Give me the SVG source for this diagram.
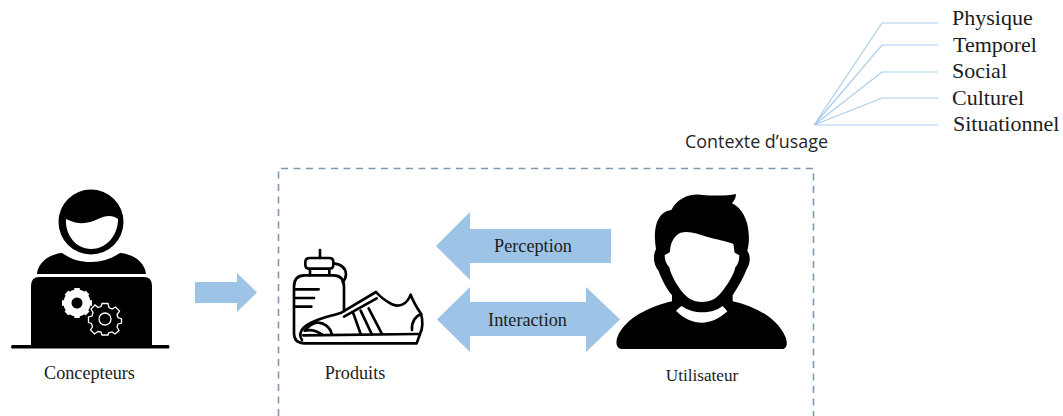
<svg xmlns="http://www.w3.org/2000/svg" width="1063" height="416" viewBox="0 0 1063 416">
<style>
.t{font-family:"Liberation Serif","Times New Roman",serif;fill:#1c1c1c}
.s{font-size:18.200px}
.m{font-size:22px}
.ar{fill:#9dc3e6}
.ln{fill:none;stroke:#a9cdec;stroke-width:1.200}
.ic{fill:#000}
.wh{fill:#fff}
.sh{fill:none;stroke:#000;stroke-width:8;stroke-linecap:round;stroke-linejoin:round}
</style>
<rect width="1063" height="416" fill="#fff"/>
<g id="connectors">
<path d="M278.500 416V168.500H813.500V416" fill="none" stroke="#7f98b0" stroke-width="1.600" stroke-dasharray="7 5.500"/>
<path class="ar" d="M195 282H237V273L257 292.500L237 312V303H195Z"/>
<path class="ar" d="M436 246L470 212V229H611V263H470V280Z"/>
<path class="ar" d="M437 319.500L470 287V302H586V287L620 319.500L586 352V336H470V352Z"/>
<path class="ln" d="M814 125L882 23H938M814 125L882 45H938M814 125L882 72H938M814 125L882 98H938M814 125H938"/>
</g>
<g id="concepteurs">
<circle class="ic" cx="91" cy="222" r="32.500"/>
<path class="wh" d="M66 219C78 225 88 224 98 219C106 215 113 215 118 219C118 236 106 249 91 249C76 249 65 235 66 219Z"/>
<path class="ic" d="M37 274C38 262 50 254 62 253C72 260 80 262 91 262C102 262 111 259 120 253C133 254 145 262 146 274Z"/>
<path class="ic" d="M31 286Q31 277 39 277H144Q152 277 152 286V345H169Q170 347 169 348.500H12Q10 347 12 345H31Z"/>
<g transform="translate(77 303)">
<circle r="10" fill="none" stroke="#fff" stroke-width="7"/>
<path d="M0-15V15M-15 0H15M-10.500-10.500L10.500 10.500M-10.500 10.500L10.500-10.500" stroke="#fff" stroke-width="5.500"/>
<circle r="5.500" fill="#000"/>
</g>
<g transform="translate(105 319)" fill="none" stroke="#fff" stroke-width="1.300">
<circle r="6"/>
<path d="M-3-15.500H3L4-11.500L7-10L10.500-12L14.500-8L12-4.500L13-1.500L16.500 0V4L13 5L12 8L14 11.500L10 15L7 13L3.500 14L3 16H-3L-4 13L-7 12.500L-10.500 15L-14.500 11L-12.500 8L-13.500 4.500L-16.500 3.500V-2L-13-3L-12-6.500L-14-10L-10-14L-7-11.500L-4-12.500Z"/>
</g>
<text class="t s" x="89.500" y="379" text-anchor="middle">Concepteurs</text>
</g>
<g id="produits">
<g transform="translate(270 230) scale(.33333)">
<path class="sh" d="M150 60V84M120 84H178Q190 84 190 96V104Q190 116 178 116H118Q106 116 106 104V96Q106 84 120 84ZM120 116V136M178 116V136"/>
<path class="sh" d="M190 100Q226 104 228 132Q228 146 218 156"/>
<path class="sh" d="M222 244V170Q222 136 190 136H104Q72 136 72 170V310Q72 340 104 340H440L450 312C458 298 460 270 452 250C440 232 428 210 422 194C412 222 388 234 364 222C346 212 330 200 318 186L214 248C170 262 120 272 100 294Q84 312 96 330"/>
<path class="sh" d="M74 178H146M74 204H132M74 230H124"/>
<path class="sh" d="M100 316L444 312M104 302C116 288 126 280 140 278C160 276 180 290 186 314M104 302C124 298 140 302 156 314"/>
<path class="sh" d="M222 260L320 205M250 250L272 312M272 242L305 312M296 235L335 310M426 300C424 276 436 258 454 252"/>
</g>
<text class="t s" x="355" y="379" text-anchor="middle">Produits</text>
</g>
<g id="utilisateur">
<g transform="translate(610 180) scale(.33333)">
<path class="ic" d="M184 90C200 60 230 42 270 44C310 48 350 48 378 42C378 54 372 62 366 70C396 84 414 120 416 160C418 180 416 196 412 212C422 226 422 250 410 268C398 300 378 330 368 346V364C430 378 500 410 526 470C532 484 534 507 516 507H38C20 507 16 490 22 472C46 412 120 380 186 364V346C170 328 156 300 146 274C130 252 128 226 138 208C130 160 134 96 184 90Z"/>
<path class="wh" d="M180 216C180 190 192 166 212 158C240 152 262 162 290 170C320 178 352 184 370 192C372 200 372 210 374 218L388 226C388 242 384 254 376 262C372 284 352 316 332 340C312 362 296 366 276 366C256 366 238 360 220 340C200 316 182 284 178 262C168 252 164 240 164 226Z"/>
<path class="wh" d="M198 392L214 378C236 392 256 397 276 397C298 397 320 392 338 378L352 394C330 416 300 428 276 428C250 428 220 416 198 392Z"/>
</g>
<text class="t" font-size="17.200" x="702" y="381" text-anchor="middle">Utilisateur</text>
</g>
<text class="t s" x="533" y="252" text-anchor="middle">Perception</text>
<text class="t s" x="527.500" y="326" text-anchor="middle">Interaction</text>
<text x="685" y="148" font-family="'Open Sans','Liberation Sans',sans-serif" font-size="17.900" fill="#262626">Contexte d’usage</text>
<g id="contexte">
<text class="t m" x="952" y="25">Physique</text>
<text class="t m" x="953" y="52">Temporel</text>
<text class="t m" x="952" y="78">Social</text>
<text class="t m" x="952" y="105">Culturel</text>
<text class="t m" x="953" y="131">Situationnel</text>
</g>
</svg>
